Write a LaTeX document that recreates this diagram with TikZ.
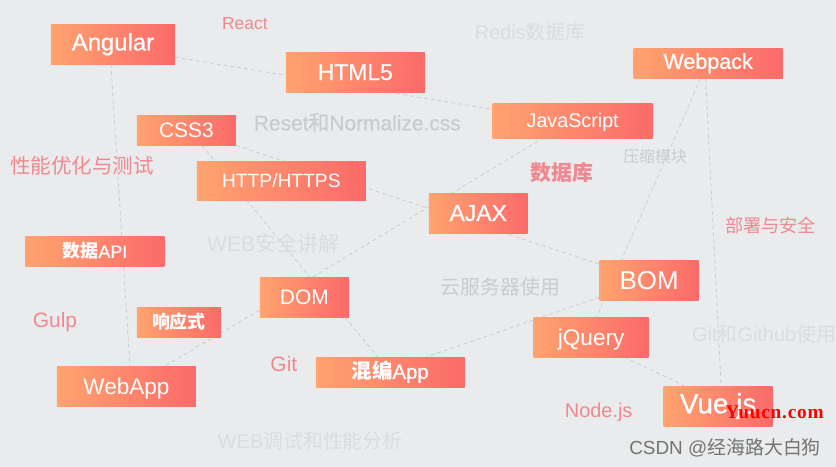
\documentclass[tikz,border=0pt]{standalone}
\usepackage{fontspec}
\setmainfont{Liberation Sans}
\newfontfamily\cjkfont{Noto Sans CJK SC}
\newfontfamily\cjkmed[FakeBold=0.6]{Noto Sans CJK SC}
\newfontfamily\latmed[FakeBold=0.6]{Liberation Sans}
\newfontfamily\markfont[LetterSpace=4]{Liberation Serif}
\usetikzlibrary{backgrounds}
\definecolor{paper}{HTML}{E9EBED}
\definecolor{boxleft}{HTML}{FFA36F}
\definecolor{boxright}{HTML}{FB6A6A}
\definecolor{pinktext}{HTML}{F0898F}
\definecolor{midgray}{HTML}{C9CBCE}
\definecolor{palegray}{HTML}{DADCDF}
\definecolor{linkgray}{HTML}{CBCDD0}
\newcommand{\fs}[1]{\fontsize{#1}{#1}\selectfont}
\newcommand{\zh}[1]{{\cjkfont #1}}
\tikzset{
  tag/.style={left color=boxleft,right color=boxright,text=white,inner sep=0pt},
  link/.style={dash pattern=on 4bp off 3bp,draw=linkgray,line width=0.8bp},
  pink/.style={text=pinktext,inner sep=0pt},
  mid/.style={text=midgray,inner sep=0pt},
  pale/.style={text=palegray,inner sep=0pt}
}
\begin{document}
\begin{tikzpicture}[x=1bp,y=-1bp]
% boxes
\node[tag,minimum width=124bp,minimum height=40bp] (angular) at (113,44.3) {\fs{24}\latmed Angular};
\node[tag,minimum width=139bp,minimum height=40bp] (html) at (355.5,72.3) {\fs{23}\latmed HTML5};
\node[tag,minimum width=99bp,minimum height=30bp] (css) at (186.5,130.3) {\fs{21}CSS3};
\node[tag,minimum width=169bp,minimum height=39bp] (http) at (281.5,180.8) {\fs{19.3}HTTP/HTTPS};
\node[tag,text depth=0pt,minimum width=160bp,minimum height=35bp] (js) at (573,120.8) {\fs{19.8}JavaScript};
\node[tag,minimum width=149bp,minimum height=30bp] (webpack) at (708.5,63.3) {\fs{21.6}\latmed Webpack};
\node[tag,minimum width=99bp,minimum height=40bp] (ajax) at (478.5,213.3) {\fs{23}\latmed AJAX};
\node[tag,minimum width=139bp,minimum height=30bp] (api) at (95,251.3) {\fs{18}{\cjkfont\bfseries 数据}\latmed API};
\node[tag,minimum width=84bp,minimum height=30bp] (resp) at (179,322.3) {\fs{18}\cjkfont\bfseries 响应式};
\node[tag,minimum width=89bp,minimum height=40bp] (dom) at (304.5,297.3) {\fs{21}DOM};
\node[tag,text depth=0pt,minimum width=139bp,minimum height=40bp] (webapp) at (126.5,386.3) {\fs{22.6}WebApp};
\node[tag,minimum width=149bp,minimum height=30bp] (hybrid) at (390.5,372.3) {\fs{20.4}{\cjkfont\bfseries 混编}\latmed App};
\node[tag,minimum width=99bp,minimum height=40bp] (bom) at (649.5,280.3) {\fs{26}BOM};
\node[tag,text depth=0pt,minimum width=115bp,minimum height=40bp] (jquery) at (591.5,337.3) {\fs{22.7}jQuery};
\node[tag,minimum width=109bp,minimum height=40bp] (vue) at (718.5,406.3) {\fs{28}\latmed Vue.js};
% links
\begin{pgfonlayer}{background}
\fill[paper] (0,0) rectangle (836,467);
\draw[link] ([xshift=-2bp]angular.south) -- ([xshift=3.5bp]webapp.north);
\draw[link] ([yshift=-13bp]angular.east) -- ([yshift=-3bp]html.west);
\draw[link] ([xshift=34bp]html.south) -- ([yshift=11.5bp]js.west);
\draw[link] ([xshift=15.5bp]css.south) -- ([xshift=5.5bp]dom.north);
\draw[link] (css.south east) -- ([yshift=16bp]bom.west);
\draw[link] ([xshift=8.5bp]dom.north) -- ([xshift=-30bp]js.south);
\draw[link] ([xshift=-7.5bp]webpack.south) -- ([xshift=5.5bp]jquery.north);
\draw[link] ([xshift=-2.5bp]webpack.south) -- ([xshift=3bp]vue.north);
\draw[link] ([xshift=33.5bp]jquery.south) -- ([xshift=-33.5bp]vue.north);
\draw[link] ([yshift=-17bp]bom.west) -- ([xshift=36.5bp]hybrid.north);
\draw[link] ([xshift=40.5bp]dom.south) -- ([xshift=-12.5bp]hybrid.north);
\draw[link] ([yshift=-13bp]dom.west) -- ([xshift=38.5bp]webapp.north);
\end{pgfonlayer}
% labels
\node[pink] (react) at (245,24) {\fs{17.5}React};
\node[pale] (redis) at (530.5,32) {\fs{20}Redis\zh{数据库}};
\node[mid] (reset) at (357.5,122.5) {\fs{21}\latmed Reset{\cjkmed 和}Normalize.css};
\node[pink] (perf) at (82,166) {\fs{20.6}\cjkfont 性能优化与测试};
\node[pink] (db) at (562,172.5) {\fs{21}\cjkfont\bfseries 数据库};
\node[mid] (zip) at (655.5,157) {\fs{16}\cjkfont 压缩模块};
\node[pink] (deploy) at (771,225.5) {\fs{18.3}\cjkfont 部署与安全};
\node[pale] (websec) at (273.5,243.5) {\fs{21.2}WEB\zh{安全讲解}};
\node[mid] (cloud) at (500.5,287) {\fs{20}\cjkfont 云服务器使用};
\node[pink,text depth=0pt] (gulp) at (55,320) {\fs{21}Gulp};
\node[pink] (git) at (284,364) {\fs{21}Git};
\node[pale] (github) at (764.5,334) {\fs{20}Git\zh{和}Github\zh{使用}};
\node[pink] (nodejs) at (599,413) {\fs{20}Node.js};
\node[pale] (debug) at (310.5,441) {\fs{20}WEB\zh{调试和性能分析}};
% watermarks
\node[text=red,inner sep=0pt] (yuucn) at (775,413) {\markfont\fs{19.4}\bfseries Yuucn.com};
\node[text=black!55,inner sep=0pt] (csdn) at (725.5,448.5) {\fs{19}CSDN @\zh{经海路大白狗}};
\end{tikzpicture}
\end{document}
